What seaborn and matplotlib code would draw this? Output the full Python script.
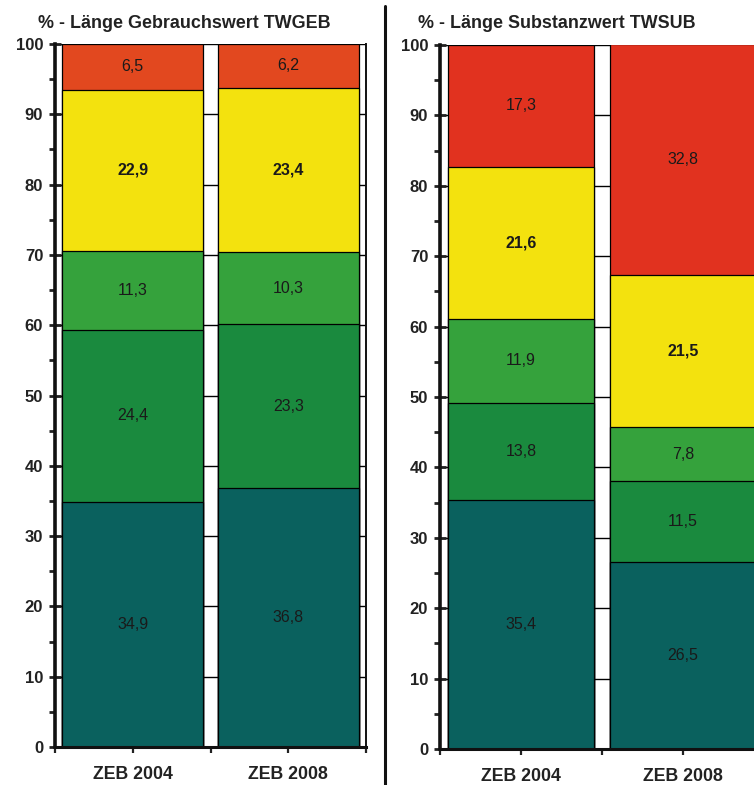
import numpy as np
import pandas as pd
import seaborn as sns
import matplotlib
matplotlib.use("Agg")
import matplotlib.pyplot as plt
from matplotlib.ticker import MultipleLocator

sns.set_style("white")
plt.rcParams["font.family"] = ["Liberation Sans", "DejaVu Sans"]

# Survey campaigns (x categories)
years = ["ZEB 2004", "ZEB 2008"]
# Condition classes, stacked from bottom to top
classes = ["sehr gut", "gut", "mittel", "schlecht", "sehr schlecht"]

# Share of length (%) per class, bottom to top
gebrauch_2004 = [34.9, 24.4, 11.3, 22.9, 6.5]
gebrauch_2008 = [36.8, 23.3, 10.3, 23.4, 6.2]
substanz_2004 = [35.4, 13.8, 11.9, 21.6, 17.3]
substanz_2008 = [26.5, 11.5, 7.8, 21.5, 32.8]

titles = ["% - Länge Gebrauchswert TWGEB", "% - Länge Substanzwert TWSUB"]

colors_left = ["#0a615e", "#1a8a3e", "#35a23c", "#f3e20e", "#e2481f"]
colors_right = ["#0a615e", "#1a8a3e", "#35a23c", "#f3e20e", "#e1321f"]


def panel(ax, v2004, v2008, colors):
    df = pd.DataFrame({
        "year": np.repeat(years, len(classes)),
        "cls": classes * len(years),
        "value": v2004 + v2008,
    })
    df["top"] = df.groupby("year")["value"].cumsum()
    # draw cumulative totals from the highest level down so lower layers overlay
    for i in reversed(range(len(classes))):
        sub = df[df["cls"] == classes[i]]
        sns.barplot(data=sub, x="year", y="top", order=years, color=colors[i],
                    width=0.905, edgecolor="black", linewidth=0.9,
                    saturation=1, ax=ax, zorder=2)
    for _, r in df.iterrows():
        xi = years.index(r["year"])
        bold = r["cls"] == "schlecht"
        ax.text(xi, r["top"] - r["value"] / 2, f"{r['value']:.1f}".replace(".", ","),
                ha="center", va="center", fontsize=11.5, color="#1a1a1a",
                fontweight="bold" if bold else "normal", zorder=3)
    ax.set_ylim(0, 100)
    ax.set_xlim(-0.5, 1.5)
    ax.set_xlabel("")
    ax.set_ylabel("")
    ax.set_axisbelow(True)
    ax.yaxis.set_major_locator(MultipleLocator(10))
    ax.yaxis.set_minor_locator(MultipleLocator(5))
    ax.yaxis.grid(True, which="major", color="black", linewidth=1.0, zorder=0)
    ax.set_xticks([0, 1])
    ax.set_xticks([-0.5, 0.5, 1.5], minor=True)
    ax.tick_params(axis="y", which="major", direction="inout", length=9, width=2,
                   labelsize=12, pad=4, colors="#222222", left=True)
    ax.tick_params(axis="y", which="minor", direction="out", length=4, width=2,
                   left=True, colors="#222222")
    ax.tick_params(axis="x", which="major", direction="out", length=4, width=1.6,
                   labelsize=12.8, pad=10, colors="#222222", bottom=True)
    ax.tick_params(axis="x", which="minor", direction="out", length=4, width=1.6,
                   bottom=True, colors="#222222")
    for lab in ax.get_xticklabels() + ax.get_yticklabels():
        lab.set_fontweight("bold")
    ax.spines["top"].set_visible(False)
    ax.spines["left"].set_linewidth(2.6)
    ax.spines["bottom"].set_linewidth(2.2)
    ax.spines["right"].set_linewidth(1.4)
    for s in ("left", "bottom", "right"):
        ax.spines[s].set_color("#111111")
        ax.spines[s].set_zorder(4)


fig = plt.figure(figsize=(7.54, 7.85), dpi=100)
ax1 = fig.add_axes([55 / 754, 38 / 785, 311 / 754, 703 / 785])
ax2 = fig.add_axes([440 / 754, 36 / 785, 324 / 754, 704 / 785])

panel(ax1, gebrauch_2004, gebrauch_2008, colors_left)
panel(ax2, substanz_2004, substanz_2008, colors_right)

fig.text(38 / 754, 1 - 23 / 785, titles[0], ha="left", va="center",
         fontsize=12.9, fontweight="bold", color="#222222")
fig.text(418 / 754, 1 - 23 / 785, titles[1], ha="left", va="center",
         fontsize=12.9, fontweight="bold", color="#222222")

# vertical separator between the two panels
fig.add_artist(plt.Line2D([385 / 754, 385 / 754], [0, 1 - 6 / 785],
                          transform=fig.transFigure, color="#111111", linewidth=2.2))

fig.savefig("out.png", dpi=100)
